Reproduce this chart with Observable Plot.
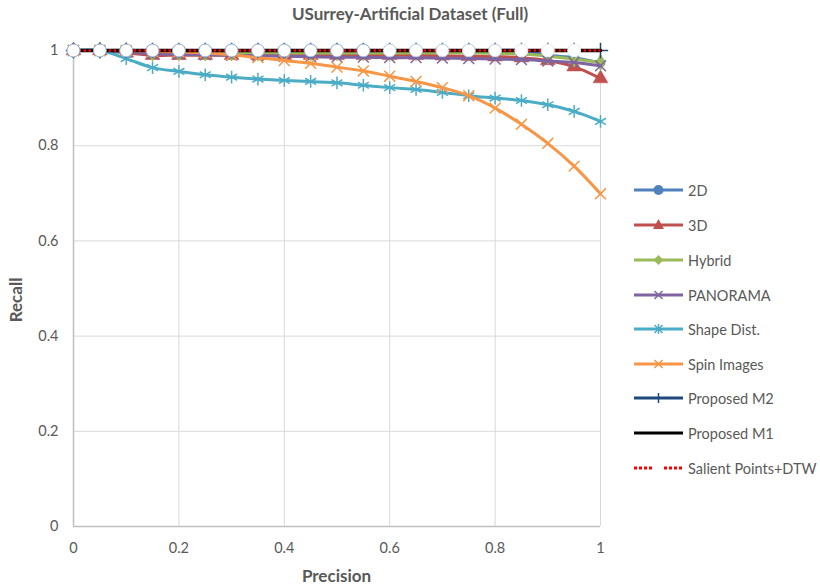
<!DOCTYPE html>
<html>
<head>
<meta charset="utf-8">
<script src="https://cdn.jsdelivr.net/npm/d3@7"></script>
<script src="https://cdn.jsdelivr.net/npm/@observablehq/plot@0.6"></script>
<style>
  html, body { margin: 0; padding: 0; background: #fff; }
  #wrap { position: relative; width: 820px; height: 588px; font-family: Lato, "Open Sans", sans-serif; color: #595959; }
  #title { position: absolute; left: 0; width: 820px; top: 3px; text-align: center; font-size: 17px; font-weight: bold; }
  #xlab { position: absolute; left: 73px; width: 527px; top: 565px; text-align: center; font-size: 17px; font-weight: bold; }
  #ylab { position: absolute; left: 15px; top: 300px; transform: translate(-50%, -50%) rotate(-90deg); font-size: 17px; font-weight: bold; }
  #legend { position: absolute; left: 633px; top: 0; }
  .li { position: absolute; left: 0; height: 20px; display: flex; align-items: center; white-space: nowrap; font-size: 14.5px; color: #595959; }
  .li svg { margin-right: 4px; }
</style>
</head>
<body>
<div id="wrap">
  <div id="title">USurrey-Artificial Dataset (Full)</div>
  <div id="chart"></div>
  <div id="xlab">Precision</div>
  <div id="ylab">Recall</div>
  <div id="legend"></div>
</div>
<script>
// ---- data ----
const precision = [0, 0.05, 0.1, 0.15, 0.2, 0.25, 0.3, 0.35, 0.4, 0.45, 0.5, 0.55, 0.6, 0.65, 0.7, 0.75, 0.8, 0.85, 0.9, 0.95, 1];
const seriesNames = ["2D", "3D", "Hybrid", "PANORAMA", "Shape Dist.", "Spin Images", "Proposed M2", "Proposed M1", "Salient Points+DTW"];
const recall2D       = [1, 1, 1, 1, 1, 1, 1, 1, 1, 1, 1, 1, 1, 1, 1, 1, 1, 1, 0.99, 0.985, 0.974];
const recall3D       = [1, 1, 0.995, 0.99, 0.99, 0.99, 0.99, 0.99, 0.99, 0.99, 0.99, 0.99, 0.99, 0.99, 0.989, 0.988, 0.987, 0.985, 0.979, 0.966, 0.941];
const recallHybrid   = [1, 1, 1, 0.995, 0.995, 0.995, 0.995, 0.995, 0.995, 0.995, 0.995, 0.995, 0.995, 0.995, 0.995, 0.995, 0.994, 0.993, 0.988, 0.982, 0.975];
const recallPanorama = [1, 1, 0.997, 0.993, 0.992, 0.991, 0.99, 0.989, 0.988, 0.987, 0.986, 0.986, 0.985, 0.985, 0.984, 0.983, 0.982, 0.981, 0.978, 0.975, 0.968];
const recallShape    = [1, 1, 0.983, 0.964, 0.956, 0.949, 0.944, 0.94, 0.937, 0.935, 0.932, 0.927, 0.922, 0.918, 0.912, 0.905, 0.9, 0.895, 0.886, 0.872, 0.851];
const recallSpin     = [1, 1, 1, 0.998, 0.997, 0.995, 0.991, 0.985, 0.979, 0.973, 0.965, 0.957, 0.946, 0.935, 0.922, 0.905, 0.879, 0.845, 0.805, 0.757, 0.699];
const recallM2       = [1, 1, 1, 1, 1, 1, 1, 1, 1, 1, 1, 1, 1, 1, 1, 1, 1, 1, 1, 1, 1];
const recallM1       = [1, 1, 1, 1, 1, 1, 1, 1, 1, 1, 1, 1, 1, 1, 1, 1, 1, 1, 1, 1, 1];
const recallSalient  = [1, 1, 1, 1, 1, 1, 1, 1, 1, 1, 1, 1, 1, 1, 1, 1, 1, 1, 1, 1, 1];
const xTicks = [0, 0.2, 0.4, 0.6, 0.8, 1];
const xTickLabels = ["0", "0.2", "0.4", "0.6", "0.8", "1"];
const yTicks = [0, 0.2, 0.4, 0.6, 0.8, 1];
const yTickLabels = ["0", "0.2", "0.4", "0.6", "0.8", "1"];

// ---- styles ----
const styles = {
  "2D":          {color: "#4f81bd", symbol: "circle",   r: 4.5, filled: true},
  "3D":          {color: "#c0504d", symbol: "triangle", r: 5.5, filled: true},
  "Hybrid":      {color: "#9bbb59", symbol: "diamond",  r: 5,   filled: true},
  "PANORAMA":    {color: "#8064a2", symbol: "times",    r: 5,   filled: false},
  "Shape Dist.": {color: "#4bacc6", symbol: "asterisk", r: 6,   filled: false},
  "Spin Images": {color: "#f79646", symbol: "times",    r: 5,   filled: false},
  "Proposed M2": {color: "#1f497d", symbol: "plus",     r: 5,   filled: false},
  "Proposed M1": {color: "#000000", symbol: null},
  "Salient Points+DTW": {color: "#ff0000", symbol: null, dotted: true}
};
const values = [recall2D, recall3D, recallHybrid, recallPanorama, recallShape, recallSpin, recallM2, recallM1, recallSalient];
const rows = seriesNames.map((name, k) => precision.map((p, i) => ({series: name, precision: p, recall: values[k][i]})));

const marks = [
  Plot.gridX(xTicks.slice(1), {stroke: "#d9d9d9", strokeOpacity: 1, strokeWidth: 1}),
  Plot.gridY(yTicks.slice(1), {stroke: "#d9d9d9", strokeOpacity: 1, strokeWidth: 1}),
  Plot.ruleX([0], {stroke: "#bfbfbf", strokeWidth: 1.5}),
  Plot.ruleY([0], {stroke: "#bfbfbf", strokeWidth: 1.5}),
  Plot.axisX(xTicks, {tickFormat: (d, i) => xTickLabels[i], tickSize: 0, tickPadding: 16, label: null, fill: "#595959", fontSize: 14.5}),
  Plot.axisY(yTicks, {tickFormat: (d, i) => yTickLabels[i], tickSize: 0, tickPadding: 15, label: null, fill: "#595959", fontSize: 14.5})
];

rows.forEach((data, k) => {
  const name = seriesNames[k];
  const s = styles[name];
  if (name === "Proposed M1") {
    marks.push(Plot.line(data, {x: "precision", y: "recall", stroke: s.color, strokeWidth: 3.5}));
  } else if (s.dotted) {
    marks.push(Plot.line(data, {x: "precision", y: "recall", stroke: s.color, strokeWidth: 2.5, strokeDasharray: "2.5,2.5", strokeLinecap: "butt"}));
  } else {
    marks.push(Plot.line(data, {x: "precision", y: "recall", stroke: s.color, strokeWidth: 3, curve: "catmull-rom"}));
    if (s.filled) {
      marks.push(Plot.dot(data, {x: "precision", y: "recall", symbol: () => s.symbol, r: s.r, fill: s.color, stroke: s.color, strokeWidth: 0.5}));
    } else {
      marks.push(Plot.dot(data, {x: "precision", y: "recall", symbol: () => s.symbol, r: s.r, stroke: s.color, strokeWidth: 1.5, fill: "none"}));
    }
  }
});
// open circle markers sitting on the top (recall = 1) curve; outlines fade toward the right
marks.push(Plot.dot(rows[7].filter(d => d.precision < 1), {x: "precision", y: "recall", r: 6.5, fill: "white",
  stroke: d => d.precision >= 0.85 ? "#e6ebf3" : (d.precision >= 0.6 ? "#b9c9e3" : "#8eaad6"), strokeWidth: 1}));

const chart = Plot.plot({
  width: 820, height: 588,
  marginLeft: 73, marginRight: 220, marginTop: 50, marginBottom: 62,
  x: {domain: [0, 1]},
  y: {domain: [0, 1]},
  color: {type: "identity"},
  style: {fontFamily: "Lato, 'Open Sans', sans-serif", fontSize: "14px", color: "#595959", background: "white", overflow: "visible"},
  marks
});
document.getElementById("chart").appendChild(chart);

// ---- legend ----
const legendY = [190, 225, 260, 295, 329, 364, 398, 433, 468];
const legend = document.getElementById("legend");
seriesNames.forEach((name, k) => {
  const s = styles[name];
  const item = document.createElement("div");
  item.className = "li";
  item.style.top = (legendY[k] - 10) + "px";
  let sw = "";
  if (s.dotted) {
    sw = `<line x1="1" y1="10" x2="20" y2="10" stroke="${s.color}" stroke-width="3" stroke-dasharray="3,2"/>` +
         `<line x1="31" y1="10" x2="50" y2="10" stroke="${s.color}" stroke-width="3" stroke-dasharray="3,2"/>`;
  } else {
    sw = `<line x1="1" y1="10" x2="50" y2="10" stroke="${s.color}" stroke-width="3"/>`;
    const c = s.color;
    if (s.symbol === "circle") sw += `<circle cx="25.5" cy="10" r="5" fill="${c}"/>`;
    if (s.symbol === "triangle") sw += `<path d="M25.5,4 L31,14 L20,14 Z" fill="${c}"/>`;
    if (s.symbol === "diamond") sw += `<path d="M25.5,5 L30.5,10 L25.5,15 L20.5,10 Z" fill="${c}"/>`;
    if (s.symbol === "times") sw += `<path d="M21.5,6 L29.5,14 M29.5,6 L21.5,14" stroke="${c}" stroke-width="1.5"/>`;
    if (s.symbol === "asterisk") sw += `<path d="M21.5,6 L29.5,14 M29.5,6 L21.5,14 M25.5,5 L25.5,15" stroke="${c}" stroke-width="1.5"/>`;
    if (s.symbol === "plus") sw += `<path d="M25.5,5 L25.5,15" stroke="${c}" stroke-width="1.5"/>`;
  }
  item.innerHTML = `<svg width="51" height="20">${sw}</svg><span>${name}</span>`;
  legend.appendChild(item);
});
</script>
</body>
</html>
